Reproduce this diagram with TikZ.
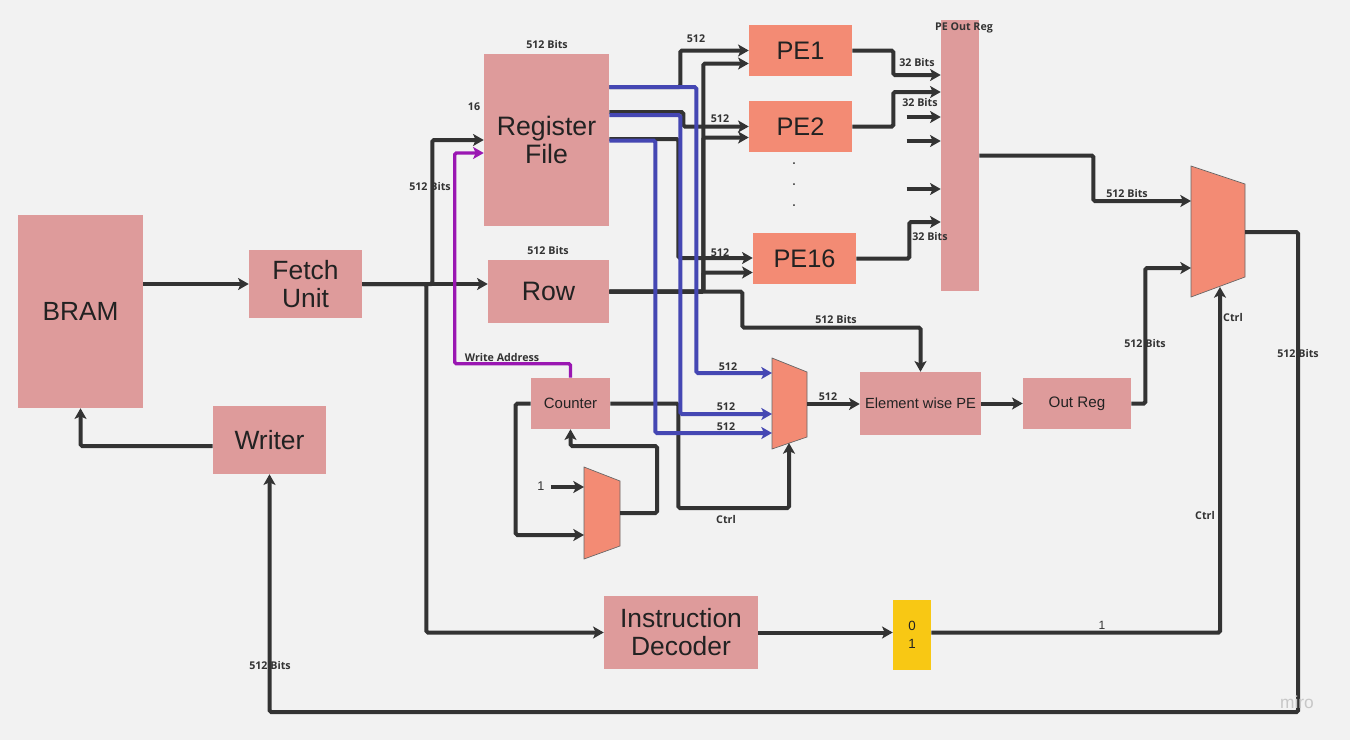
\documentclass[tikz,border=0pt]{standalone}
\usepackage{fontspec}
\setmainfont{Liberation Sans}
\newfontfamily\lblfont{Open Sans}
\usetikzlibrary{arrows.meta,calc}
\definecolor{bg}{HTML}{F2F2F2}
\definecolor{pinkbox}{HTML}{DE9B9B}
\definecolor{salmon}{HTML}{F38B74}
\definecolor{yel}{HTML}{F8C814}
\definecolor{dk}{HTML}{333333}
\definecolor{txt}{HTML}{222222}
\definecolor{blu}{HTML}{4547B3}
\definecolor{purp}{HTML}{9A17B2}
\definecolor{muxline}{HTML}{666666}
\begin{document}
\begin{tikzpicture}[x=0.75pt,y=-0.75pt,
  box/.style={fill=pinkbox,inner sep=0pt,align=center,text=txt},
  pebox/.style={fill=salmon,inner sep=0pt,align=center,text=txt},
  wire/.style={draw=dk,line width=3pt,rounded corners=1.2pt},
  arr/.style={wire,-{Stealth[length=8pt,width=9pt,inset=2pt]}},
  barr/.style={draw=blu,line width=3pt,rounded corners=1.2pt,-{Stealth[length=8pt,width=9pt,inset=2pt]}},
  parr/.style={draw=purp,line width=2.5pt,rounded corners=1.2pt,-{Stealth[length=8pt,width=9pt,inset=2pt]}},
  lbl/.style={font=\lblfont\bfseries\fontsize{8}{9}\selectfont,text=dk,inner sep=0pt},
  thin/.style={font=\fontsize{9}{10}\selectfont,text=dk,inner sep=0pt},
  muxs/.style={fill=salmon,draw=muxline,line width=0.5pt}]

\fill[bg] (0,0) rectangle (1350,740);
\useasboundingbox (0,0) rectangle (1350,740);

% ---------- boxes ----------
\node[box,minimum width=93.75pt,minimum height=144.75pt,font=\fontsize{19.7}{21}\selectfont] (bram) at (80.5,311.5) {BRAM};
\node[box,minimum width=84.75pt,minimum height=51pt,font=\fontsize{19.8}{21}\selectfont] (fetch) at (305.5,284) {Fetch\\Unit};
\node[box,minimum width=84.75pt,minimum height=51pt,font=\fontsize{19.8}{21}\selectfont] (writer) at (269.5,440) {Writer};
\node[box,minimum width=93.75pt,minimum height=129pt,font=\fontsize{20}{21}\selectfont] (rf) at (546.5,140) {Register\\File};
\node[box,minimum width=90.75pt,minimum height=47.25pt,font=\fontsize{20}{20}\selectfont] (row) at (548.5,291.5) {Row};
\node[box,minimum width=59.25pt,minimum height=38.25pt,font=\fontsize{11.2}{12}\selectfont] (counter) at (570.5,403.5) {Counter};
\node[box,minimum width=90.75pt,minimum height=47.25pt,font=\fontsize{11}{12}\selectfont] (ewpe) at (920.5,403.5) {Element wise PE};
\node[box,minimum width=81pt,minimum height=38.25pt,font=\fontsize{11.4}{12}\selectfont] (outreg) at (1077,403.5) {Out Reg};
\node[box,minimum width=115.5pt,minimum height=54.75pt,font=\fontsize{19.8}{21}\selectfont] (id) at (681,632.5) {Instruction\\Decoder};
\node[box,minimum width=28.5pt,minimum height=203.25pt] (peo) at (960,155.5) {};
\node[pebox,minimum width=77.25pt,minimum height=38.25pt,font=\fontsize{19}{19}\selectfont] (pe1) at (800.5,50.5) {PE1};
\node[pebox,minimum width=77.25pt,minimum height=38.25pt,font=\fontsize{19}{19}\selectfont] (pe2) at (800.5,126.5) {PE2};
\node[pebox,minimum width=77.25pt,minimum height=38.25pt,font=\fontsize{19}{19}\selectfont] (pe16) at (804.5,258.5) {PE16};
\node[fill=yel,inner sep=0pt,minimum width=28.5pt,minimum height=52.5pt,align=center,text=txt,font=\fontsize{10}{13}\selectfont] (ysel) at (912,635) {0\\1};

% ---------- muxes ----------
\path[muxs] (1191,166) -- (1245,184) -- (1245,277) -- (1191,297) -- cycle;
\coordinate (mbI1) at (1191,201);
\coordinate (mbI2) at (1191,268);
\coordinate (mbO) at (1245,232);
\coordinate (mbC) at (1220,287);
\path[muxs] (772,358) -- (807,372) -- (807,437) -- (772,449) -- cycle;
\coordinate (mmI1) at (772,373);
\coordinate (mmI2) at (772,414);
\coordinate (mmI3) at (772,433);
\coordinate (mmO) at (807,404);
\coordinate (mmC) at (789,443);
\path[muxs] (584,467) -- (620,481) -- (620,546) -- (584,559) -- cycle;
\coordinate (msI1) at (584,487);
\coordinate (msI2) at (584,535);
\coordinate (msO) at (620,513);

% ---------- dark connectors ----------
\draw[arr] (bram.east |- fetch.west) -- (fetch.west);
\draw[arr] (fetch.east) -- ++(70,0) |- (rf.west);
\draw[arr] (fetch.east) -- (row.west |- fetch.east);
\draw[arr] (fetch.east) -- ++(64,0) |- (id.west);
\draw[arr] ($(writer.west)+(0,6)$) -| (bram.south);

\draw[arr] ($(rf.east)+(0,-53)$) -- ++(71,0) |- (pe1.west);
\draw[arr] ($(rf.east)+(0,-28)$) -- ++(74,0) |- (pe2.west);
\draw[arr] ($(rf.east)+(0,-1)$) -- ++(69,0) |- ($(pe16.west)+(0,-0.5)$);

\draw[arr] (row.east) -- ++(133,0) -- ++(0,36) -| (ewpe.north);
\draw[arr] (row.east) -- ++(94,0) |- ($(pe1.west)+(0,13)$);
\draw[arr] (row.east) -- ++(94,0) |- ($(pe2.west)+(0,11)$);
\draw[arr] (row.east) -- ++(94,0) |- ($(pe16.west)+(0,14)$);

\draw[arr] (pe1.east) -- ++(41,0) |- ($(peo.west)+(0,-80.5)$);
\draw[arr] (pe2.east) -- ++(41,0) |- ($(peo.west)+(0,-63.5)$);
\draw[arr] ($(peo.west)+(-34,-38.5)$) -- ($(peo.west)+(0,-38.5)$);
\draw[arr] ($(peo.west)+(-34,-14.5)$) -- ($(peo.west)+(0,-14.5)$);
\draw[arr] ($(peo.west)+(-34,33.5)$) -- ($(peo.west)+(0,33.5)$);
\draw[arr] (pe16.east) -- ++(53,0) |- ($(peo.west)+(0,66.5)$);

\draw[arr] (peo.east) -- ++(114,0) |- (mbI1);
\draw[arr] (outreg.east) -- ++(14,0) |- (mbI2);
\draw[arr] (ewpe.east) -- (outreg.west);
\draw[arr] (mmO) -- (ewpe.west |- mmO);
\draw[arr] (mbO) -- ++(53,0) -- ++(0,480) -| (writer.south);
\draw[arr] (id.east) -- (ysel.west |- id.east);
\draw[arr] (ysel.east |- id.east) -| (mbC);

\draw[arr] (counter.east) -- ++(68,0) -- ++(0,104.5) -| (mmC);
\draw[arr] (counter.west) -- ++(-15,0) |- (msI2);
\draw[arr] (msO) -- ++(37,0) -- ++(0,-67) -| (counter.south);

% ---------- blue connectors ----------
\draw[barr] ($(rf.east)+(0,-53)$) -- ++(87,0) |- (mmI1);
\draw[barr] ($(rf.east)+(0,-25)$) -- ++(71,0) |- (mmI2);
\draw[barr] ($(rf.east)+(0,0.5)$) -- ++(46,0) |- (mmI3);

% ---------- purple connector ----------
\draw[parr] (counter.north) -- ++(0,-14) -| ($(rf.west)+(-29,13)$) -- ($(rf.west)+(0,13)$);

% ---------- labels ----------
\node[lbl] (t1) at (547,44) {512 Bits};
\node[lbl] (t2) at (548,250) {512 Bits};
\node[lbl] (t3) at (474,107) {16};
\node[lbl] (t4) at (430,186) {512 Bits};
\node[lbl] (t5) at (502,357) {Write Address};
\node[lbl] (t6) at (696,39) {512};
\node[lbl] (t7) at (720,119) {512};
\node[lbl] (t8) at (720,253) {512};
\node[lbl] (t9) at (917,62) {32 Bits};
\node[lbl] (t10) at (920,102) {32 Bits};
\node[lbl] (t11) at (930,236) {32 Bits};
\node[lbl] (t12) at (964,28) {PE Out Reg};
\node[lbl] (t13) at (836,319) {512 Bits};
\node[lbl] (t14) at (728,367) {512};
\node[lbl] (t15) at (726,407) {512};
\node[lbl] (t16) at (726,427) {512};
\node[lbl] (t17) at (828,397) {512};
\node[lbl] (t18) at (726,519) {Ctrl};
\node[lbl] (t19) at (1127,193) {512 Bits};
\node[lbl] (t20) at (1233,317) {Ctrl};
\node[lbl] (t21) at (1145,343) {512 Bits};
\node[lbl] (t22) at (1298,353) {512 Bits};
\node[lbl] (t23) at (1205,515) {Ctrl};
\node[thin] (t24) at (1102,625) {1};
\node[lbl] (t25) at (270,665) {512 Bits};
\node[thin,font=\fontsize{9.5}{10}\selectfont] (one) at (541,486) {1};
\draw[arr] ($(one.east)+(6,1)$) -- (msI1);
\node[thin,font=\fontsize{12}{12}\selectfont] (d1) at (794,164) {.};
\node[thin,font=\fontsize{12}{12}\selectfont] (d2) at (794,185) {.};
\node[thin,font=\fontsize{12}{12}\selectfont] (d3) at (794,206) {.};
\node[font=\fontsize{13}{13}\selectfont,text=black!22] (miro) at (1297,702) {miro};
\end{tikzpicture}
\end{document}
